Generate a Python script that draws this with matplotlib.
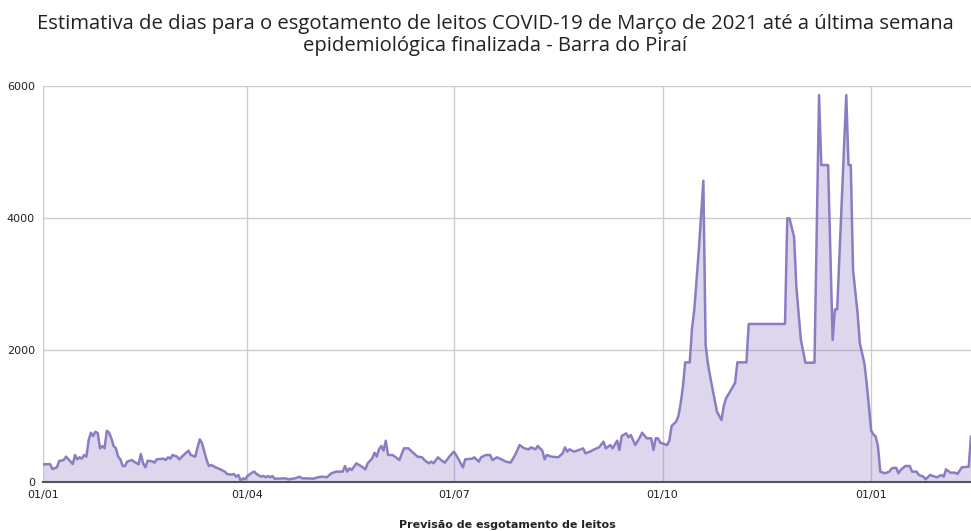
import numpy as np
import pandas as pd
import matplotlib
matplotlib.use("Agg")
import matplotlib.pyplot as plt
import matplotlib.dates as mdates

# days since 01/01/2021 and estimated days to exhaustion
days = [0, 3, 4, 6, 7, 9, 10, 12, 13, 14, 15, 16, 17, 18, 19, 20, 21, 22, 23, 24,
        25, 26, 27, 28, 29, 30, 31, 32, 33, 34, 35, 36, 37, 39, 40, 42, 43, 44, 45, 46,
        48, 49, 50, 53, 54, 55, 56, 57, 59, 60, 62, 64, 65, 67, 68, 69, 70, 71, 72, 73,
        74, 76, 78, 80, 81, 83, 84, 85, 86, 87, 88, 89, 90, 92, 93, 94, 96, 97, 98, 99,
        100, 101, 102, 107, 108, 111, 113, 114, 116, 119, 121, 123, 125, 127, 129, 132, 133, 134, 135, 136,
        138, 140, 142, 143, 145, 146, 147, 148, 149, 150, 151, 152, 154, 157, 159, 161, 163, 165, 167, 168,
        170, 171, 172, 174, 175, 177, 179, 181, 182, 184, 185, 186, 189, 190, 192, 193, 195, 197, 198, 200,
        202, 204, 206, 208, 210, 212, 214, 215, 217, 218, 220, 221, 222, 224, 227, 229, 230, 231, 232, 234,
        237, 238, 239, 241, 243, 245, 247, 248, 250, 251, 253, 254, 255, 257, 258, 259, 261, 263, 264, 266,
        268, 269, 270, 271, 272, 274, 275, 276, 277, 279, 280, 281, 282, 283, 285, 286, 287, 289, 291, 292,
        293, 294, 296, 297, 299, 300, 301, 303, 305, 306, 310, 311, 327, 328, 329, 330, 331, 332, 334, 336,
        340, 342, 343, 346, 348, 349, 350, 354, 355, 356, 357, 359, 360, 362, 363, 364, 365, 366, 367, 368,
        369, 371, 373, 374, 376, 377, 378, 380, 382, 383, 385, 386, 388, 389, 391, 393, 394, 396, 397, 398,
        400, 402, 403, 405, 408, 409]
values = [268, 270, 197, 222, 318, 333, 384, 308, 272, 409, 343, 374, 353, 409, 384, 636, 747, 697, 762, 740,
          510, 545, 510, 777, 747, 662, 545, 510, 384, 343, 242, 242, 308, 333, 308, 268, 424, 283, 222, 323,
          313, 293, 343, 353, 333, 374, 353, 409, 384, 343, 414, 475, 409, 384, 525, 646, 586, 460, 333, 242,
          258, 222, 192, 157, 121, 111, 121, 81, 106, 20, 55, 40, 91, 141, 157, 121, 81, 91, 71, 91,
          71, 91, 50, 55, 40, 55, 81, 55, 55, 50, 71, 81, 71, 131, 157, 157, 242, 157, 207, 182,
          283, 242, 192, 283, 358, 444, 384, 495, 545, 475, 626, 409, 409, 333, 510, 510, 444, 384, 374, 333,
          283, 308, 283, 374, 343, 293, 384, 460, 409, 283, 222, 343, 353, 374, 308, 374, 409, 409, 333, 374,
          343, 308, 293, 409, 560, 510, 495, 525, 495, 545, 475, 343, 409, 384, 374, 434, 525, 460, 495, 460,
          495, 510, 434, 460, 495, 525, 611, 510, 560, 510, 626, 485, 697, 737, 677, 712, 560, 677, 747, 662,
          662, 485, 662, 662, 596, 571, 560, 626, 848, 914, 1000, 1192, 1444, 1813, 1813, 2328, 2606, 3515, 4565, 2076,
          1798, 1600, 1242, 1065, 939, 1151, 1268, 1383, 1504, 1813, 1813, 2394, 2394, 3995, 3995, 3850, 3716, 2959, 2151, 1808,
          1808, 5863, 4803, 4803, 2151, 2616, 2616, 5863, 4803, 4803, 3212, 2555, 2101, 1798, 1500, 1141, 777, 720, 687, 535,
          157, 131, 157, 207, 217, 131, 182, 242, 242, 157, 157, 106, 81, 40, 106, 81, 71, 106, 81, 192,
          141, 141, 121, 222, 232, 687]

start = pd.Timestamp("2021-01-01")
dates = start + pd.to_timedelta(days, unit="D")

tick_dates = pd.to_datetime(["2021-01-01", "2021-04-01", "2021-07-01", "2021-10-01", "2022-01-01"])
tick_labels = ["01/01", "01/04", "01/07", "01/10", "01/01"]
y_ticks = [0, 2000, 4000, 6000]

line_color = "#8e7cc3"

fig = plt.figure(figsize=(9.71, 5.31), dpi=100)
ax = fig.add_axes([0.0446, 0.0923, 0.9554, 0.7457])

ax.fill_between(dates, values, 0, color=line_color, alpha=0.3, linewidth=0)
ax.plot(dates, values, color=line_color, linewidth=1.8)

ax.set_xlim(start, start + pd.Timedelta(days=409))
ax.set_ylim(0, 6000)
ax.set_xticks(tick_dates)
ax.set_xticklabels(tick_labels)
ax.set_yticks(y_ticks)
ax.tick_params(length=0, labelsize=8, colors="#222222", pad=6)
ax.grid(True, color="#cccccc", linewidth=1)
ax.set_axisbelow(True)

for side in ["top", "right", "left"]:
    ax.spines[side].set_visible(False)
ax.spines["bottom"].set_color("#555555")
ax.spines["bottom"].set_linewidth(1.5)

ax.set_xlabel("Previsão de esgotamento de leitos", fontsize=8, fontweight="bold",
              color="#222222", labelpad=14)

fig.text(0.51, 0.974, "Estimativa de dias para o esgotamento de leitos COVID-19 de Março de 2021 até a última semana\n"
         "epidemiológica finalizada - Barra do Piraí", ha="center", va="top",
         fontsize=14.6, family="Open Sans", color="#222222", linespacing=1.12)

fig.savefig("out.png", dpi=100)
